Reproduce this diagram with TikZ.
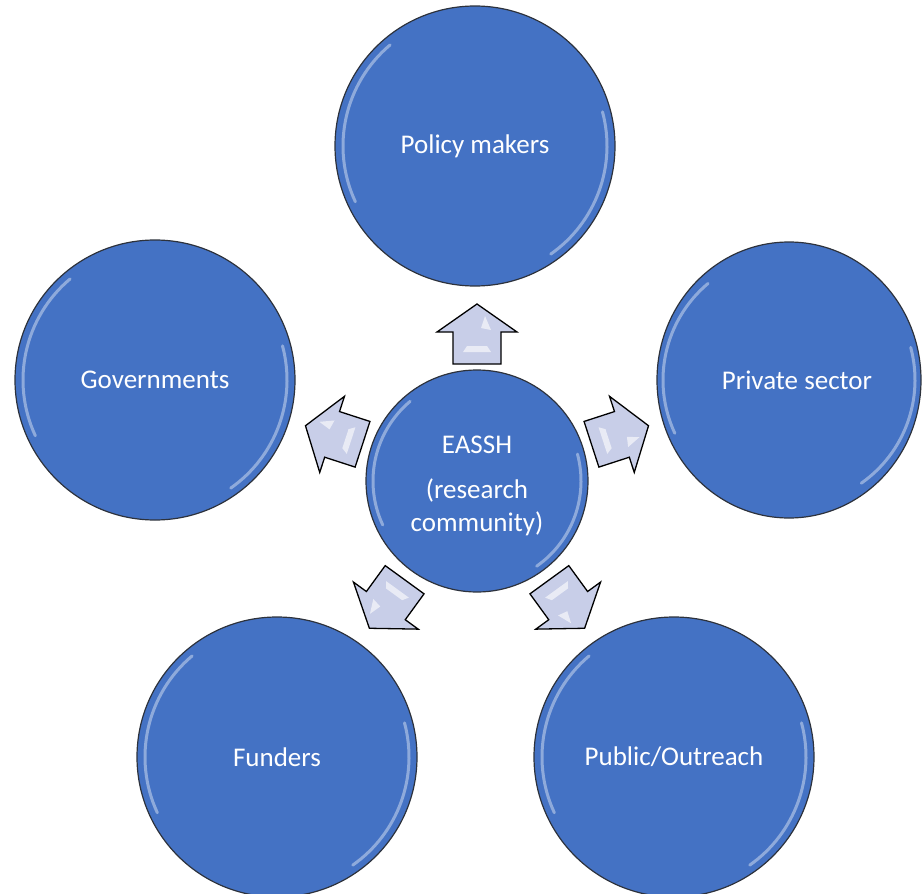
\documentclass[tikz,border=0pt]{standalone}
\usepackage{fontspec}
\setmainfont{Carlito}
\usetikzlibrary{calc,shapes.geometric}
\definecolor{ballblue}{RGB}{68,114,196}
\definecolor{rimline}{RGB}{45,50,60}
\definecolor{arrowfill}{RGB}{200,206,232}
\tikzset{
  ball/.style={circle, fill=ballblue, draw=rimline, line width=1.2pt,
    minimum size=280pt, inner sep=0pt, text=white, font=\fontsize{27}{33}\selectfont, align=center},
  centreball/.style={ball, minimum size=222pt},
  blockarrow/.style={fill=arrowfill, draw=black, line width=1.3pt, line join=miter},
  gloss/.style={white, opacity=0.4, line width=3pt, line cap=round},
}
% y axis points down, so an arc at angle a shows at visual angle -a
\newcommand{\glossring}[2]{%
  \draw[gloss] ($(#1)+(155:#2)$) arc[start angle=155, end angle=230, radius=#2];
  \draw[gloss] ($(#1)+(-15:#2)$) arc[start angle=-15, end angle=55, radius=#2];
}
\newcommand{\blockup}[2]{%
  \begin{scope}[shift={(#1)}, rotate=#2]
    \path[blockarrow] (0,-30) -- (40,-2) -- (24,-2) -- (24,30) -- (-24,30) -- (-24,-2) -- (-40,-2) -- cycle;
    \fill[white, opacity=0.6] (-14,18) -- (14,18) -- (10,12) -- (-10,12) -- cycle;
    \fill[white, opacity=0.6] (8,-18) -- (14,-4) -- (4,-6) -- cycle;
  \end{scope}}
\begin{document}
\begin{tikzpicture}[x=1pt, y=-1pt]
\useasboundingbox (0,0) rectangle (922,894);
\node[centreball] (c) at (477,481) {};
\node[ball] (pm) at (475,146) {Policy makers};
\node[ball] (gov) at (155,380) {Governments};
\node[ball, ellipse, minimum width=264pt, minimum height=276pt] (ps) at (789,380) {};
\node[text=white, font=\fontsize{27}{33}\selectfont] (pstext) at (797,380) {Private sector};
\node[ball] (fu) at (277,757) {Funders};
\node[ball] (pu) at (674,757) {Public/Outreach};
\node[text=white, font=\fontsize{27}{33}\selectfont, align=center] (ctext) at (477,486)
  {EASSH\\[12pt](research\\community)};
\glossring{pm}{132}
\glossring{gov}{132}
\glossring{ps}{126}
\glossring{fu}{132}
\glossring{pu}{132}
\glossring{c}{104}
\coordinate (a1) at ($(c)+(0,-147)$);
\coordinate (a2) at ($(c)+(-143,-46)$);
\coordinate (a3) at ($(c)+(143,-46)$);
\coordinate (a4) at ($(c)+(-90,123)$);
\coordinate (a5) at ($(c)+(90,123)$);
\blockup{a1}{0}
\blockup{a2}{72}
\blockup{a3}{-72}
\blockup{a4}{144}
\blockup{a5}{-144}
\end{tikzpicture}
\end{document}
